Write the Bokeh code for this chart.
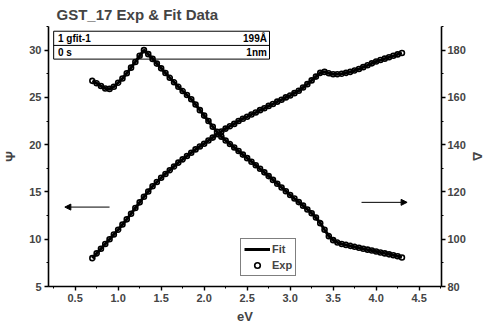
from bokeh.plotting import figure
from bokeh.models import (Range1d, LinearAxis, SingleIntervalTicker, Legend, LegendItem,
                          Arrow, NormalHead, NumeralTickFormatter)
from bokeh.embed import file_html
from bokeh.resources import INLINE

ev = [0.70, 0.75, 0.80, 0.85, 0.90, 0.95, 1.00, 1.05, 1.10, 1.15, 1.20, 1.25, 1.30, 1.35,
      1.40, 1.45, 1.50, 1.55, 1.60, 1.65, 1.70, 1.75, 1.80, 1.85, 1.90, 1.95, 2.00, 2.05,
      2.10, 2.15, 2.20, 2.25, 2.30, 2.35, 2.40, 2.45, 2.50, 2.55, 2.60, 2.65, 2.70, 2.75,
      2.80, 2.85, 2.90, 2.95, 3.00, 3.05, 3.10, 3.15, 3.20, 3.25, 3.30, 3.35, 3.40, 3.45,
      3.50, 3.55, 3.60, 3.65, 3.70, 3.75, 3.80, 3.85, 3.90, 3.95, 4.00, 4.05, 4.10, 4.15,
      4.20, 4.25, 4.30]
psi = [8.0, 8.5, 9.0, 9.5, 10.0, 10.5, 11.0, 11.55, 12.1, 12.7, 13.3, 13.9, 14.5, 15.05,
       15.6, 16.05, 16.5, 16.9, 17.3, 17.7, 18.1, 18.45, 18.8, 19.15, 19.5, 19.8, 20.1, 20.45,
       20.75, 21.1, 21.4, 21.7, 21.95, 22.2, 22.5, 22.75, 22.95, 23.2, 23.4, 23.65, 23.85, 24.1,
       24.3, 24.55, 24.75, 25.0, 25.2, 25.45, 25.7, 26.05, 26.4, 26.8, 27.2, 27.6, 27.7, 27.55,
       27.45, 27.45, 27.5, 27.6, 27.7, 27.85, 28.0, 28.2, 28.4, 28.6, 28.8, 28.95, 29.1, 29.25,
       29.4, 29.55, 29.7]
delta = [167.0, 166.0, 164.8, 163.8, 163.6, 164.5, 166.2, 168.0, 170.2, 172.6, 175.0, 177.6,
         180.0, 178.3, 176.3, 174.3, 172.3, 170.3, 168.3, 166.4, 164.5, 162.7, 161.0, 159.2,
         157.0, 154.6, 152.3, 150.0, 147.6, 145.4, 143.4, 141.8, 140.3, 138.8, 137.3, 135.8,
         134.3, 132.8, 131.3, 129.8, 128.3, 126.7, 125.1, 123.5, 121.9, 120.3, 118.7, 117.2,
         115.7, 114.2, 112.6, 111.0, 109.2, 106.8, 104.0, 101.3, 99.6, 98.6, 98.0, 97.6, 97.2,
         96.8, 96.4, 96.0, 95.6, 95.2, 94.8, 94.4, 94.0, 93.6, 93.2, 92.8, 92.3]

info_left = ["1 gfit-1", "0 s"]
info_right = ["199Å", "1nm"]

FONT = "Liberation Sans"

p = figure(frame_width=393, frame_height=260, output_backend="svg", toolbar_location=None,
           x_range=Range1d(0.19, 4.76), y_range=Range1d(5, 32.5),
           min_border_left=45, min_border_right=20, min_border_top=20, min_border_bottom=20,
           title="GST_17 Exp & Fit Data")
p.extra_y_ranges = {"delta": Range1d(80, 190)}
p.outline_line_color = None
p.grid.visible = False
p.background_fill_color = "white"

p.title.text_font = FONT
p.title.text_font_size = "15px"
p.title.text_font_style = "bold"
p.title.align = "left"
p.title.offset = 8
p.title.standoff = 7

def style_axis(ax):
    ax.axis_line_width = 1.6
    ax.major_tick_line_width = 1.4
    ax.minor_tick_line_width = 1.0
    ax.major_tick_out = 4
    ax.major_tick_in = 0
    ax.minor_tick_out = 2
    ax.minor_tick_in = 0
    ax.major_label_text_font = FONT
    ax.major_label_text_font_size = "11px"
    ax.major_label_text_font_style = "bold"
    ax.major_label_standoff = 3
    ax.axis_label_text_font = FONT
    ax.axis_label_text_font_size = "13px"
    ax.axis_label_text_font_style = "bold"
    ax.axis_label_standoff = 4

p.xaxis.ticker = SingleIntervalTicker(interval=0.5, num_minor_ticks=2)
p.xaxis.formatter = NumeralTickFormatter(format="0.0")
p.yaxis.ticker = SingleIntervalTicker(interval=5, num_minor_ticks=2)
p.xaxis.axis_label = "eV"
p.yaxis.axis_label = "Ψ"
style_axis(p.xaxis[0])
style_axis(p.yaxis[0])
p.xaxis.axis_label_standoff = 4
p.yaxis.axis_label_standoff = 8

rax = LinearAxis(y_range_name="delta", ticker=SingleIntervalTicker(interval=20, num_minor_ticks=2),
                 axis_label="Δ")
style_axis(rax)
rax.axis_label_standoff = 1
rax.major_label_standoff = 2
p.add_layout(rax, "right")

# info box
p.quad(left=[0.25], right=[2.76], bottom=[29.05], top=[32.0], fill_color="white",
       line_color="black", line_width=1)
p.line([0.25, 2.76], [30.5, 30.5], line_color="black", line_width=1)
p.text(x=[0.30, 0.30], y=[31.25, 29.78], text=info_left, text_font_size="10px",
       text_font_style="bold", text_baseline="middle", text_align="left",
       text_font={"value": FONT})
p.text(x=[2.73, 2.73], y=[31.25, 29.78], text=info_right, text_font_size="10px",
       text_font_style="bold", text_baseline="middle", text_align="right",
       text_font={"value": FONT})

# data
exp1 = p.scatter(ev, psi, marker="circle", size=5, fill_color="white", line_color="black", line_width=1.6)
exp2 = p.scatter(ev, delta, marker="circle", size=5, fill_color="white", line_color="black",
                 line_width=1.6, y_range_name="delta")
fit1 = p.line(ev, psi, line_color="black", line_width=3)
fit2 = p.line(ev, delta, line_color="black", line_width=3, y_range_name="delta")

# arrows
p.add_layout(Arrow(end=NormalHead(size=6, line_color="black", fill_color="black"),
                   x_start=0.90, y_start=13.4, x_end=0.38, y_end=13.4, line_width=1))
p.add_layout(Arrow(end=NormalHead(size=6, line_color="black", fill_color="black"),
                   x_start=3.83, y_start=13.9, x_end=4.36, y_end=13.9, line_width=1))

legend = Legend(items=[LegendItem(label="Fit", renderers=[fit1]),
                       LegendItem(label="Exp", renderers=[exp1])],
                location=(192, 10))
legend.label_text_font = FONT
legend.label_text_font_size = "11px"
legend.label_text_font_style = "bold"
legend.glyph_width = 26
legend.glyph_height = 14
legend.label_standoff = 2
legend.label_height = 14
legend.padding = 3
legend.spacing = 2
legend.margin = 0
legend.border_line_color = "black"
legend.border_line_width = 1
legend.background_fill_alpha = 1
p.add_layout(legend, "center")

open("out.html", "w").write(file_html(p, INLINE))
